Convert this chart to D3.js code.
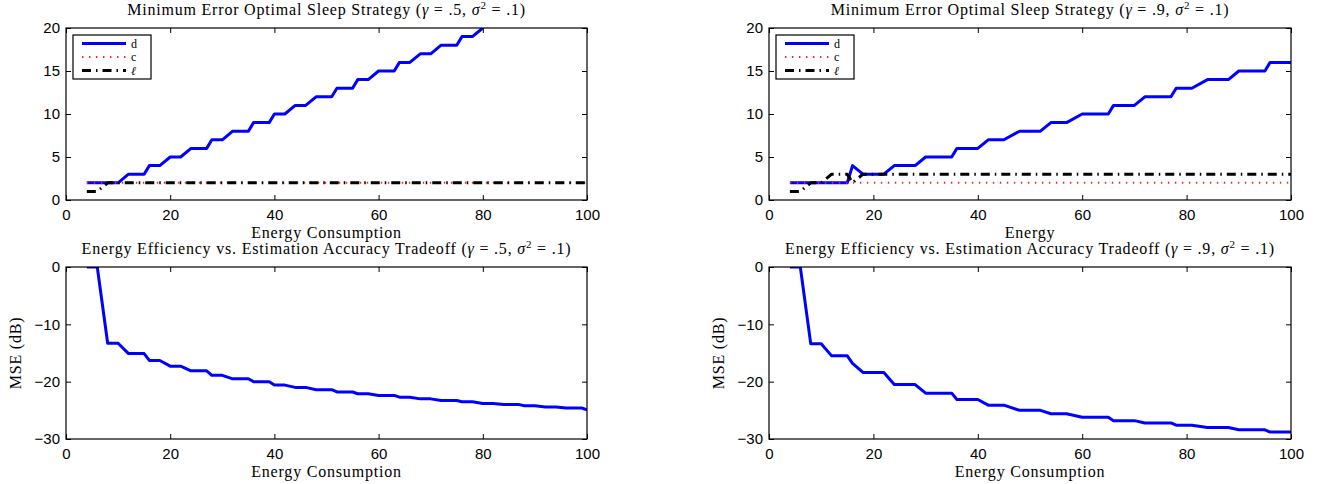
<!DOCTYPE html>
<html>
<head>
<meta charset="utf-8">
<script src="https://cdn.jsdelivr.net/npm/d3@7"></script>
<style>
  body { margin: 0; background: #fff; }
  svg { display: block; }
</style>
</head>
<body>
<div id="chart"></div>
<script>
// DATA
// top-left: gamma = .5
const energyD5 = [4, 10, 12, 15, 16, 18, 20, 22, 24, 27, 28, 30, 32, 35, 36, 39, 40, 42, 44, 46, 48, 51, 52, 55, 56, 58, 60, 63, 64, 66, 68, 70, 72, 75, 76, 78, 80];
const dVals5 = [2, 2, 3, 3, 4, 4, 5, 5, 6, 6, 7, 7, 8, 8, 9, 9, 10, 10, 11, 11, 12, 12, 13, 13, 14, 14, 15, 15, 16, 16, 17, 17, 18, 18, 19, 19, 20];
const energyC5 = [4, 100];
const cVals5 = [2, 2];
const energyL5 = [4, 6, 8, 100];
const lVals5 = [1, 1, 2, 2];

// top-right: gamma = .9
const energyD9 = [4, 15, 16, 18, 22, 24, 28, 30, 35, 36, 40, 42, 45, 48, 52, 54, 57, 60, 65, 66, 70, 72, 77, 78, 81, 84, 88, 90, 95, 96, 100];
const dVals9 = [2, 2, 4, 3, 3, 4, 4, 5, 5, 6, 6, 7, 7, 8, 8, 9, 9, 10, 10, 11, 11, 12, 12, 13, 13, 14, 14, 15, 15, 16, 16];
const energyC9 = [4, 100];
const cVals9 = [2, 2];
const energyL9 = [4, 6, 8, 10, 12, 15, 16, 18, 100];
const lVals9 = [1, 1, 2, 2, 3, 3, 2, 3, 3];

// bottom-left: MSE, gamma = .5
const energyM5 = [4, 6, 8, 10, 12, 15, 16, 18, 20, 22, 24, 27, 28, 30, 32, 35, 36, 39, 40, 42, 44, 46, 48, 51, 52, 55, 56, 58, 60, 63, 64, 66, 68, 70, 72, 75, 76, 78, 80, 82, 84, 87, 88, 90, 92, 94, 96, 99, 100];
const mseVals5 = [0, 0, -13.3, -13.3, -15.1, -15.1, -16.3, -16.3, -17.3, -17.3, -18.1, -18.1, -18.9, -18.9, -19.5, -19.5, -20.0, -20.0, -20.6, -20.6, -21.0, -21.0, -21.4, -21.4, -21.8, -21.8, -22.1, -22.1, -22.4, -22.4, -22.7, -22.7, -23.0, -23.0, -23.3, -23.3, -23.5, -23.5, -23.8, -23.8, -24.0, -24.0, -24.2, -24.2, -24.4, -24.4, -24.6, -24.6, -24.9];

// bottom-right: MSE, gamma = .9
const energyM9 = [4, 6, 8, 10, 12, 15, 16, 18, 22, 24, 28, 30, 35, 36, 40, 42, 45, 48, 52, 54, 57, 60, 65, 66, 70, 72, 77, 78, 81, 84, 88, 90, 95, 96, 100];
const mseVals9 = [0, 0, -13.4, -13.4, -15.5, -15.5, -16.8, -18.4, -18.4, -20.5, -20.5, -22.0, -22.0, -23.1, -23.1, -24.1, -24.1, -25.0, -25.0, -25.6, -25.6, -26.2, -26.2, -26.8, -26.8, -27.2, -27.2, -27.6, -27.6, -28.0, -28.0, -28.4, -28.4, -28.8, -28.8];

const xTicks = [0, 20, 40, 60, 80, 100];
const yTicksTop = [0, 5, 10, 15, 20];
const yTicksBottom = [0, -10, -20, -30];
const legendNames = ["d", "c", "ℓ"];

// STYLES
const serif = "'Liberation Serif', 'DejaVu Serif', serif";
const sans = "'Liberation Sans', Arial, sans-serif";
const styleD = { stroke: "#0000ff", width: 3, dash: null };
const styleC = { stroke: "#ff2020", width: 2, dash: "1.4,5.6" };
const styleL = { stroke: "#000000", width: 3, dash: "9,5,1.5,5" };

const width = 1319;
const height = 484;

const svg = d3.select("#chart")
  .append("svg")
  .attr("width", width)
  .attr("height", height)
  .attr("viewBox", [0, 0, width, height]);

let clipCount = 0;

// serif labels, stretched a bit to look like the latex font
const serifText = (sel, size) =>
  sel.style("font-family", serif)
    .style("font-size", size + "px")
    .style("letter-spacing", "0.8px");

// one axes box, matlab style
const drawPanel = (opt) => {
  const g = svg.append("g").attr("transform", `translate(${opt.left},${opt.top})`);
  const w = opt.w, h = opt.h;

  const x = d3.scaleLinear().domain([0, 100]).range([0, w]);
  const y = d3.scaleLinear().domain(opt.yDomain).range([h, 0]);

  const clipId = "clip" + (clipCount++);
  g.append("clipPath").attr("id", clipId)
    .append("rect").attr("x", 0).attr("y", 0).attr("width", w).attr("height", h);

  const styleAxis = (sel) => {
    sel.select(".domain").remove();
    sel.selectAll(".tick line").attr("stroke", "#000").attr("stroke-width", 1);
    sel.selectAll(".tick text")
      .attr("fill", "#000")
      .style("font-family", sans)
      .style("font-size", "15px");
  };

  g.append("g").attr("transform", `translate(0,${h})`)
    .call(d3.axisBottom(x).tickValues(xTicks).tickSizeInner(-5).tickSizeOuter(0).tickPadding(9))
    .call(styleAxis);
  g.append("g")
    .call(d3.axisTop(x).tickValues(xTicks).tickSizeInner(-5).tickSizeOuter(0).tickFormat(""))
    .call(styleAxis);
  g.append("g")
    .call(d3.axisLeft(y).tickValues(opt.yTicks).tickSizeInner(-5).tickSizeOuter(0).tickPadding(6))
    .call(styleAxis);
  g.append("g").attr("transform", `translate(${w},0)`)
    .call(d3.axisRight(y).tickValues(opt.yTicks).tickSizeInner(-5).tickSizeOuter(0).tickFormat(""))
    .call(styleAxis);

  const line = d3.line()
    .x((d) => x(d[0]))
    .y((d) => y(d[1]));

  const plotArea = g.append("g").attr("clip-path", `url(#${clipId})`);
  opt.series.forEach((s) => {
    const pts = s.xs.map((v, i) => [v, s.ys[i]]);
    plotArea.append("path")
      .datum(pts)
      .attr("d", line)
      .attr("fill", "none")
      .attr("stroke", s.style.stroke)
      .attr("stroke-width", s.style.width)
      .attr("stroke-linejoin", "round")
      .attr("stroke-dasharray", s.style.dash);
  });

  // box
  g.append("rect")
    .attr("x", 0).attr("y", 0).attr("width", w).attr("height", h)
    .attr("fill", "none").attr("stroke", "#000").attr("stroke-width", 1.2);

  // title
  const t = g.append("text")
    .attr("x", w / 2).attr("y", -13)
    .attr("text-anchor", "middle")
    .call(serifText, 16);
  t.append("tspan").text(opt.title + " (");
  t.append("tspan").style("font-style", "italic").text("γ");
  t.append("tspan").text(" = " + opt.gamma + ", ");
  t.append("tspan").style("font-style", "italic").text("σ");
  t.append("tspan").attr("dy", -6).style("font-size", "11px").text("2");
  t.append("tspan").attr("dy", 6).text(" = .1)");

  // x label
  g.append("text")
    .attr("x", w / 2).attr("y", h + 38)
    .attr("text-anchor", "middle")
    .call(serifText, 16)
    .text(opt.xLabel);

  if (opt.yLabel) {
    g.append("text")
      .attr("transform", `translate(${-45},${h / 2}) rotate(-90)`)
      .attr("text-anchor", "middle")
      .call(serifText, 16)
      .text(opt.yLabel);
  }

  // legend
  if (opt.legend) {
    const lg = g.append("g").attr("transform", "translate(7,7)");
    lg.append("rect")
      .attr("width", 78).attr("height", 44)
      .attr("fill", "#fff").attr("stroke", "#000").attr("stroke-width", 1.2);
    opt.series.forEach((s, i) => {
      const yy = 8.5 + i * 13.5;
      lg.append("line")
        .attr("x1", 9).attr("x2", 53).attr("y1", yy).attr("y2", yy)
        .attr("stroke", s.style.stroke)
        .attr("stroke-width", s.style.width)
        .attr("stroke-dasharray", s.style.dash);
      lg.append("text")
        .attr("x", 58).attr("y", yy + 4)
        .style("font-family", serif)
        .style("font-size", "12px")
        .style("font-style", i === 2 ? "italic" : "normal")
        .text(legendNames[i]);
    });
  }
};

const leftX = 66, rightX = 769, panelW = 521, panelH = 172;

drawPanel({
  left: leftX, top: 28, w: panelW, h: panelH,
  yDomain: [0, 20], yTicks: yTicksTop,
  title: "Minimum Error Optimal Sleep Strategy", gamma: ".5",
  xLabel: "Energy Consumption", legend: true,
  series: [
    { xs: energyD5, ys: dVals5, style: styleD },
    { xs: energyC5, ys: cVals5, style: styleC },
    { xs: energyL5, ys: lVals5, style: styleL },
  ],
});

drawPanel({
  left: rightX, top: 28, w: panelW + 1, h: panelH,
  yDomain: [0, 20], yTicks: yTicksTop,
  title: "Minimum Error Optimal Sleep Strategy", gamma: ".9",
  xLabel: "Energy", legend: true,
  series: [
    { xs: energyD9, ys: dVals9, style: styleD },
    { xs: energyC9, ys: cVals9, style: styleC },
    { xs: energyL9, ys: lVals9, style: styleL },
  ],
});

drawPanel({
  left: leftX, top: 267, w: panelW, h: panelH,
  yDomain: [-30, 0], yTicks: yTicksBottom,
  title: "Energy Efficiency vs. Estimation Accuracy Tradeoff", gamma: ".5",
  xLabel: "Energy Consumption", yLabel: "MSE (dB)",
  series: [{ xs: energyM5, ys: mseVals5, style: styleD }],
});

drawPanel({
  left: rightX, top: 267, w: panelW + 1, h: panelH,
  yDomain: [-30, 0], yTicks: yTicksBottom,
  title: "Energy Efficiency vs. Estimation Accuracy Tradeoff", gamma: ".9",
  xLabel: "Energy Consumption", yLabel: "MSE (dB)",
  series: [{ xs: energyM9, ys: mseVals9, style: styleD }],
});
</script>
</body>
</html>
